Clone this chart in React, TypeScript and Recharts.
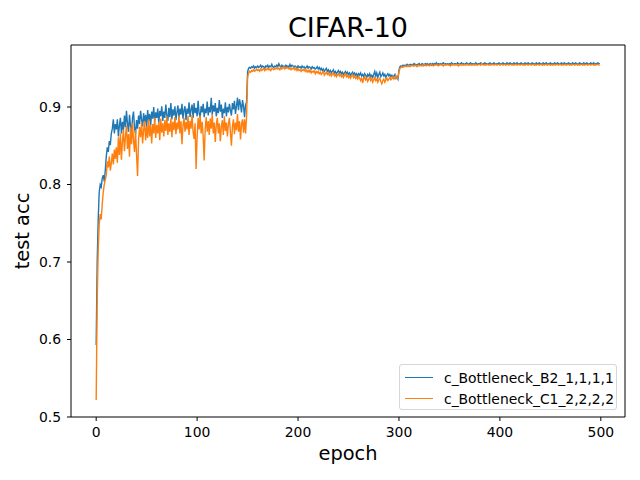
import { LineChart, Line, XAxis, YAxis, Legend, ReferenceLine } from "recharts";

// test accuracy, one value per epoch
const blueWarmup = [
  0.593, 0.7, 0.755, 0.79, 0.8, 0.797, 0.808, 0.812, 0.804, 0.818,
  0.836, 0.848, 0.842, 0.856, 0.851, 0.866, 0.872, 0.884, 0.866, 0.878,
  0.871, 0.884, 0.862, 0.876, 0.886, 0.866, 0.881, 0.87, 0.889, 0.874,
  0.895, 0.879, 0.868, 0.89, 0.876, 0.864, 0.886, 0.894, 0.873, 0.865,
  0.883, 0.872, 0.889, 0.878, 0.895, 0.884, 0.875, 0.892, 0.88, 0.89,
  0.874, 0.896, 0.882, 0.891, 0.877, 0.894, 0.885, 0.9, 0.881, 0.893,
  0.886, 0.898, 0.879, 0.895, 0.888, 0.901, 0.882, 0.894, 0.886, 0.903,
  0.889, 0.882, 0.899, 0.887, 0.905, 0.884, 0.897, 0.889, 0.901, 0.883,
  0.893, 0.902, 0.886, 0.898, 0.89, 0.904, 0.885, 0.896, 0.901, 0.883,
  0.898, 0.891, 0.906, 0.887, 0.897, 0.903, 0.886, 0.905, 0.892, 0.899,
  0.888, 0.908, 0.892, 0.886, 0.901, 0.893, 0.904, 0.887, 0.898, 0.892,
  0.907, 0.889, 0.9, 0.893, 0.912, 0.89, 0.902, 0.894, 0.905, 0.888,
  0.899, 0.892, 0.909, 0.894, 0.903, 0.886, 0.898, 0.892, 0.906, 0.888,
  0.9, 0.893, 0.904, 0.896, 0.889, 0.905, 0.897, 0.908, 0.891, 0.901,
  0.912, 0.896, 0.91, 0.903, 0.893, 0.909, 0.901, 0.887, 0.903, 0.906,
];
const bluePlateau = [
  0.945, 0.95, 0.951, 0.95, 0.952, 0.951, 0.953, 0.95, 0.952, 0.951,
  0.953, 0.951, 0.952, 0.954, 0.951, 0.953, 0.952, 0.95, 0.953, 0.952,
  0.954, 0.951, 0.953, 0.952, 0.955, 0.952, 0.951, 0.953, 0.952, 0.954,
  0.952, 0.956, 0.953, 0.951, 0.954, 0.952, 0.953, 0.951, 0.954, 0.952,
  0.953, 0.951, 0.955, 0.952, 0.954, 0.953, 0.951, 0.953, 0.952, 0.95,
  0.953, 0.951, 0.952, 0.95, 0.953, 0.951, 0.952, 0.95, 0.951, 0.953,
  0.95, 0.952, 0.951, 0.949, 0.952, 0.95, 0.951, 0.949, 0.95, 0.952,
  0.949, 0.951, 0.948, 0.95, 0.947, 0.949, 0.946, 0.948, 0.95, 0.946,
  0.948, 0.945, 0.947, 0.944, 0.946, 0.948, 0.944, 0.946, 0.943, 0.945,
  0.947, 0.944, 0.946, 0.943, 0.945, 0.942, 0.944, 0.946, 0.943, 0.945,
  0.942, 0.944, 0.941, 0.943, 0.945, 0.942, 0.944, 0.941, 0.943, 0.94,
  0.943, 0.941, 0.944, 0.94, 0.942, 0.939, 0.943, 0.941, 0.938, 0.942,
  0.94, 0.943, 0.939, 0.941, 0.938, 0.942, 0.946, 0.94, 0.944, 0.938,
  0.942, 0.945, 0.939, 0.941, 0.944, 0.94, 0.942, 0.938, 0.941, 0.943,
  0.94, 0.942, 0.939, 0.941, 0.938, 0.94, 0.942, 0.937, 0.939, 0.936,
];
const blueFinal = [
  0.948, 0.952, 0.953, 0.952, 0.954, 0.953, 0.954, 0.953, 0.955, 0.954,
  0.954, 0.955, 0.954, 0.955, 0.954, 0.956, 0.955, 0.954, 0.955, 0.955,
  0.956, 0.954, 0.955, 0.956, 0.955, 0.954, 0.956, 0.955, 0.956, 0.955,
  0.955, 0.956, 0.954, 0.956, 0.955, 0.956, 0.955, 0.957, 0.955, 0.956,
  0.955, 0.956, 0.955, 0.956, 0.957, 0.955, 0.956, 0.955, 0.956, 0.955,
  0.956, 0.955, 0.957, 0.956, 0.955, 0.956, 0.956, 0.955, 0.957, 0.956,
  0.955, 0.956, 0.957, 0.955, 0.956, 0.955, 0.956, 0.957, 0.956, 0.955,
  0.956, 0.957, 0.955, 0.956, 0.956, 0.955, 0.957, 0.956, 0.955, 0.956,
  0.956, 0.957, 0.956, 0.955, 0.956, 0.957, 0.956, 0.956, 0.955, 0.956,
  0.957, 0.956, 0.955, 0.956, 0.957, 0.956, 0.955, 0.956, 0.956, 0.957,
  0.956, 0.955, 0.956, 0.957, 0.956, 0.956, 0.955, 0.957, 0.956, 0.956,
  0.957, 0.956, 0.955, 0.956, 0.957, 0.956, 0.956, 0.957, 0.955, 0.956,
  0.956, 0.957, 0.956, 0.955, 0.956, 0.957, 0.956, 0.956, 0.957, 0.956,
  0.955, 0.956, 0.957, 0.956, 0.956, 0.955, 0.957, 0.956, 0.956, 0.957,
  0.956, 0.955, 0.956, 0.957, 0.956, 0.956, 0.957, 0.955, 0.956, 0.956,
  0.957, 0.956, 0.956, 0.955, 0.957, 0.956, 0.956, 0.957, 0.956, 0.955,
  0.956, 0.957, 0.956, 0.956, 0.957, 0.955, 0.956, 0.956, 0.957, 0.956,
  0.956, 0.955, 0.957, 0.956, 0.956, 0.957, 0.956, 0.955, 0.956, 0.957,
  0.956, 0.956, 0.955, 0.957, 0.956, 0.956, 0.957, 0.956, 0.955, 0.956,
  0.957, 0.956, 0.956, 0.957, 0.955, 0.956, 0.956, 0.957, 0.956, 0.956,
];

const orangeWarmup = [
  0.522, 0.65, 0.715, 0.748, 0.762, 0.755, 0.775, 0.79, 0.8, 0.806,
  0.812, 0.83, 0.822, 0.836, 0.818, 0.828, 0.84, 0.826, 0.845, 0.833,
  0.848, 0.828, 0.861, 0.838, 0.866, 0.832, 0.855, 0.871, 0.843, 0.862,
  0.876, 0.846, 0.865, 0.836, 0.874, 0.852, 0.879, 0.857, 0.842, 0.87,
  0.838, 0.811, 0.858, 0.874, 0.861, 0.88, 0.853, 0.87, 0.882, 0.857,
  0.875, 0.86, 0.884, 0.862, 0.877, 0.853, 0.878, 0.866, 0.886, 0.86,
  0.877, 0.866, 0.881, 0.857, 0.885, 0.867, 0.879, 0.862, 0.883, 0.869,
  0.888, 0.864, 0.879, 0.868, 0.885, 0.861, 0.881, 0.87, 0.887, 0.865,
  0.88, 0.871, 0.889, 0.866, 0.882, 0.852, 0.876, 0.886, 0.868, 0.881,
  0.871, 0.889, 0.864, 0.882, 0.872, 0.89, 0.868, 0.859, 0.879, 0.82,
  0.861, 0.886, 0.871, 0.889, 0.866, 0.881, 0.862, 0.831, 0.872, 0.887,
  0.868, 0.882, 0.864, 0.885, 0.872, 0.891, 0.866, 0.88, 0.855, 0.877,
  0.886, 0.866, 0.879, 0.856, 0.874, 0.883, 0.864, 0.888, 0.869, 0.88,
  0.862, 0.878, 0.886, 0.867, 0.85, 0.875, 0.884, 0.865, 0.88, 0.87,
  0.891, 0.868, 0.882, 0.858, 0.878, 0.884, 0.867, 0.884, 0.866, 0.887,
];
const orangePlateau = [
  0.938, 0.944, 0.946, 0.945, 0.947, 0.946, 0.948, 0.946, 0.947, 0.949,
  0.947, 0.948, 0.946, 0.949, 0.947, 0.948, 0.95, 0.947, 0.949, 0.948,
  0.95, 0.948, 0.949, 0.947, 0.95, 0.949, 0.948, 0.95, 0.949, 0.951,
  0.949, 0.95, 0.948, 0.951, 0.949, 0.95, 0.952, 0.949, 0.951, 0.95,
  0.951, 0.949, 0.95, 0.948, 0.95, 0.949, 0.951, 0.948, 0.95, 0.947,
  0.949, 0.947, 0.948, 0.946, 0.948, 0.947, 0.949, 0.946, 0.948, 0.945,
  0.947, 0.945, 0.948, 0.944, 0.946, 0.945, 0.947, 0.943, 0.946, 0.944,
  0.946, 0.943, 0.945, 0.942, 0.944, 0.946, 0.941, 0.943, 0.945, 0.942,
  0.944, 0.941, 0.943, 0.94, 0.942, 0.944, 0.94, 0.942, 0.939, 0.941,
  0.943, 0.94, 0.942, 0.939, 0.941, 0.938, 0.941, 0.943, 0.939, 0.941,
  0.938, 0.94, 0.937, 0.94, 0.942, 0.938, 0.94, 0.937, 0.939, 0.936,
  0.939, 0.937, 0.934, 0.938, 0.931, 0.936, 0.939, 0.935, 0.937, 0.933,
  0.936, 0.938, 0.934, 0.937, 0.932, 0.935, 0.938, 0.934, 0.936, 0.932,
  0.935, 0.937, 0.933, 0.93, 0.934, 0.936, 0.932, 0.935, 0.937, 0.934,
  0.936, 0.938, 0.935, 0.937, 0.939, 0.936, 0.938, 0.94, 0.937, 0.938,
];
const orangeFinal = [
  0.945, 0.95, 0.951, 0.952, 0.951, 0.952, 0.953, 0.952, 0.953, 0.952,
  0.953, 0.952, 0.953, 0.954, 0.953, 0.953, 0.954, 0.953, 0.952, 0.954,
  0.953, 0.954, 0.953, 0.954, 0.953, 0.955, 0.954, 0.953, 0.954, 0.954,
  0.953, 0.954, 0.955, 0.954, 0.953, 0.954, 0.954, 0.955, 0.954, 0.953,
  0.954, 0.955, 0.954, 0.954, 0.953, 0.955, 0.954, 0.954, 0.955, 0.954,
  0.954, 0.953, 0.955, 0.954, 0.955, 0.954, 0.954, 0.955, 0.954, 0.953,
  0.955, 0.954, 0.954, 0.955, 0.954, 0.955, 0.954, 0.954, 0.955, 0.954,
  0.954, 0.955, 0.954, 0.954, 0.955, 0.954, 0.955, 0.954, 0.954, 0.955,
  0.955, 0.954, 0.956, 0.955, 0.954, 0.955, 0.954, 0.955, 0.955, 0.954,
  0.955, 0.954, 0.955, 0.955, 0.954, 0.955, 0.955, 0.954, 0.955, 0.955,
  0.954, 0.955, 0.955, 0.954, 0.955, 0.955, 0.954, 0.955, 0.955, 0.954,
  0.955, 0.955, 0.954, 0.955, 0.954, 0.955, 0.955, 0.954, 0.955, 0.955,
  0.954, 0.955, 0.955, 0.954, 0.955, 0.954, 0.955, 0.955, 0.954, 0.955,
  0.955, 0.954, 0.955, 0.955, 0.954, 0.955, 0.954, 0.955, 0.955, 0.954,
  0.955, 0.955, 0.954, 0.955, 0.954, 0.955, 0.955, 0.954, 0.955, 0.955,
  0.954, 0.955, 0.954, 0.955, 0.955, 0.954, 0.955, 0.955, 0.954, 0.955,
  0.955, 0.954, 0.955, 0.954, 0.955, 0.955, 0.954, 0.955, 0.955, 0.954,
  0.955, 0.954, 0.955, 0.955, 0.954, 0.955, 0.955, 0.954, 0.955, 0.954,
  0.955, 0.955, 0.954, 0.955, 0.954, 0.955, 0.955, 0.954, 0.955, 0.955,
  0.954, 0.955, 0.955, 0.954, 0.955, 0.954, 0.955, 0.955, 0.954, 0.954,
];

const blueAcc = [...blueWarmup, ...bluePlateau, ...blueFinal];
const orangeAcc = [...orangeWarmup, ...orangePlateau, ...orangeFinal];
const epochs = blueAcc.map((_, i) => i);

const xTicks = [0, 100, 200, 300, 400, 500];
const yTicks = [0.5, 0.6, 0.7, 0.8, 0.9];
const xDomain = [-24.95, 523.95];
const yDomain = [0.5, 0.98];

const seriesNames = ["c_Bottleneck_B2_1,1,1,1", "c_Bottleneck_C1_2,2,2,2"];
const colors = ["#1f77b4", "#ff7f0e"];

const data = epochs.map((e, i) => ({
  epoch: e,
  blue: blueAcc[i],
  orange: orangeAcc[i],
}));

const font = "'DejaVu Sans', sans-serif";
const tickStyle = { fill: "#000", fontSize: 13.9, fontFamily: font };

function LegendBox() {
  return (
    <div
      style={{
        width: 218,
        height: 46,
        border: "1px solid #d6d6d6",
        borderRadius: 3,
        background: "rgba(255,255,255,0.8)",
        fontFamily: font,
        fontSize: 13.9,
        color: "#000",
        boxSizing: "border-box",
        paddingTop: 2,
      }}
    >
      {seriesNames.map((name, i) => (
        <div
          key={name}
          style={{ display: "flex", alignItems: "center", height: 21 }}
        >
          <div
            style={{
              width: 28,
              height: 0,
              borderTop: `1.4px solid ${colors[i]}`,
              marginLeft: 5,
              marginRight: 11,
            }}
          />
          <span>{name}</span>
        </div>
      ))}
    </div>
  );
}

export default function App() {
  return (
    <div
      style={{
        position: "absolute",
        left: 0,
        top: 0,
        width: 640,
        height: 480,
        background: "#fff",
        fontFamily: font,
      }}
    >
      <div
        style={{
          position: "absolute",
          left: 71,
          width: 554,
          top: 14,
          textAlign: "center",
          fontSize: 27,
          lineHeight: "27px",
        }}
      >
        CIFAR-10
      </div>
      <div
        style={{
          position: "absolute",
          left: 71,
          width: 554,
          top: 444,
          textAlign: "center",
          fontSize: 19.4,
          lineHeight: "19.4px",
        }}
      >
        epoch
      </div>
      <div
        style={{
          position: "absolute",
          left: 23,
          top: 231,
          width: 0,
          height: 0,
        }}
      >
        <div
          style={{
            position: "absolute",
            transform: "translate(-50%, -50%) rotate(-90deg)",
            whiteSpace: "nowrap",
            fontSize: 19.4,
            lineHeight: "19.4px",
          }}
        >
          test acc
        </div>
      </div>
      <LineChart
        width={640}
        height={480}
        data={data}
        margin={{ top: 45, right: 15, bottom: 33, left: 21 }}
      >
        <XAxis
          dataKey="epoch"
          type="number"
          domain={xDomain}
          ticks={xTicks}
          allowDataOverflow
          height={30}
          stroke="#000"
          tickSize={4}
          tickMargin={6}
          tick={tickStyle}
        />
        <YAxis
          type="number"
          domain={yDomain}
          ticks={yTicks}
          allowDataOverflow
          width={50}
          stroke="#000"
          tickSize={4}
          tickMargin={6}
          tick={tickStyle}
          tickFormatter={(v) => v.toFixed(1)}
        />
        {/* close the frame on top and right like matplotlib */}
        <ReferenceLine y={yDomain[1]} stroke="#000" strokeWidth={1} />
        <ReferenceLine x={xDomain[1]} stroke="#000" strokeWidth={1} />
        <Legend
          layout="vertical"
          align="center"
          verticalAlign="middle"
          content={() => <LegendBox />}
          wrapperStyle={{ left: 399, top: 364, width: 218, height: 46 }}
        />
        <Line
          dataKey="blue"
          name={seriesNames[0]}
          stroke={colors[0]}
          strokeWidth={1.4}
          dot={false}
          isAnimationActive={false}
        />
        <Line
          dataKey="orange"
          name={seriesNames[1]}
          stroke={colors[1]}
          strokeWidth={1.4}
          dot={false}
          isAnimationActive={false}
        />
      </LineChart>
    </div>
  );
}
